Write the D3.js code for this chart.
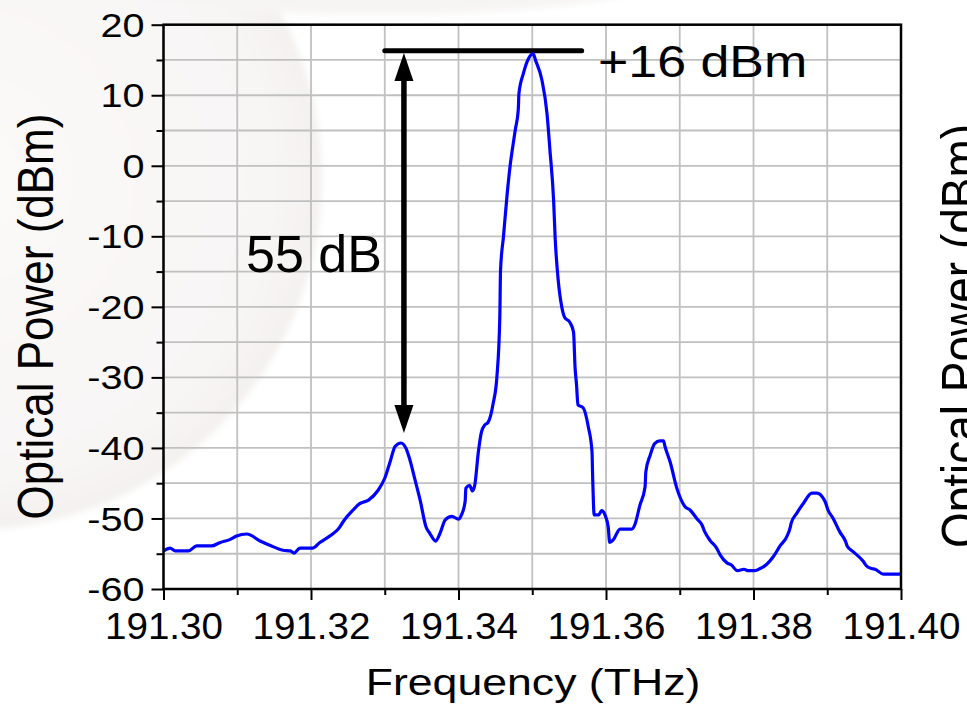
<!DOCTYPE html>
<html><head><meta charset="utf-8">
<script src="https://cdn.jsdelivr.net/npm/d3@7"></script>
<style>
body{margin:0;background:#fff;overflow:hidden}
svg{display:block}
text{font-family:"Liberation Sans",Arial,Helvetica,sans-serif;fill:#000}
</style>
</head><body>
<svg id="chart" width="967" height="707"></svg>
<script>
// ---- data ----
const frequency = [
191.3000,191.3009,191.3016,191.3034,191.3045,191.3065,191.3077,191.3090,191.3099,191.3113,
191.3131,191.3144,191.3162,191.3172,191.3177,191.3185,191.3202,191.3212,191.3228,191.3237,
191.3246,191.3257,191.3266,191.3278,191.3291,191.3300,191.3308,191.3314,191.3322,191.3329,
191.3333,191.3341,191.3348,191.3356,191.3361,191.3369,191.3375,191.3382,191.3391,191.3400,
191.3404,191.3409,191.3410,191.3415,191.3419,191.3422,191.3427,191.3431,191.3436,191.3440,
191.3447,191.3452,191.3456,191.3457,191.3461,191.3466,191.3470,191.3474,191.3477,191.3481,
191.3482,191.3488,191.3495,191.3501,191.3505,191.3513,191.3520,191.3524,191.3529,191.3531,
191.3535,191.3540,191.3544,191.3551,191.3556,191.3558,191.3560,191.3562,191.3569,191.3576,
191.3581,191.3582,191.3584,191.3590,191.3594,191.3599,191.3603,191.3605,191.3610,191.3619,
191.3635,191.3639,191.3646,191.3653,191.3654,191.3660,191.3666,191.3673,191.3678,191.3680,
191.3687,191.3696,191.3704,191.3707,191.3714,191.3723,191.3730,191.3734,191.3741,191.3750,
191.3755,191.3764,191.3770,191.3778,191.3787,191.3793,191.3802,191.3809,191.3818,191.3827,
191.3836,191.3845,191.3850,191.3851,191.3859,191.3868,191.3879,191.3886,191.3897,191.3901,
191.3908,191.3917,191.3925,191.3927,191.3935,191.3949,191.3953,191.3960,191.3965,191.3976,
191.4000];
const power = [
-54.6,-54.2,-54.6,-54.6,-53.9,-53.9,-53.4,-53.0,-52.5,-52.2,
-53.2,-53.8,-54.5,-54.6,-54.9,-54.2,-54.2,-53.4,-52.3,-51.5,
-50.1,-48.8,-47.9,-47.4,-46.0,-44.3,-41.7,-39.8,-39.3,-40.1,
-41.3,-44.5,-47.4,-51.2,-52.1,-53.2,-52.1,-50.2,-49.7,-50.1,
-49.5,-47.6,-45.7,-45.3,-46.1,-45.3,-40.5,-37.8,-36.7,-36.4,
-33.7,-30.0,-21.5,-14.8,-10.0,-4.0,0.0,3.0,5.1,7.9,
10.3,13.1,15.2,15.9,14.8,12.2,7.4,2.2,-5.0,-10.1,
-16.0,-20.0,-21.5,-22.2,-23.6,-28.5,-31.0,-33.9,-34.3,-37.0,
-40.5,-44.5,-49.5,-49.5,-48.9,-49.6,-51.2,-53.4,-53.0,-51.5,
-51.5,-50.9,-48.1,-45.5,-43.4,-41.0,-39.4,-39.0,-39.0,-39.8,
-42.0,-45.7,-47.8,-48.3,-48.8,-50.0,-50.9,-51.9,-53.1,-54.2,
-55.2,-56.3,-56.6,-57.4,-57.2,-57.4,-57.4,-57.1,-56.5,-55.4,
-53.9,-52.6,-51.2,-50.7,-49.2,-47.8,-46.4,-46.4,-47.6,-48.8,
-50.0,-51.9,-53.3,-53.9,-54.7,-56.1,-56.7,-57.1,-57.2,-57.9,
-57.9];

const xMajorTicks = [191.30,191.32,191.34,191.36,191.38,191.40];
const xMinorTicks = [191.31,191.33,191.35,191.37,191.39];
const yMajorTicks = [20,10,0,-10,-20,-30,-40,-50,-60];
const yMinorTicks = [15,5,-5,-15,-25,-35,-45,-55];
const xTitle = "Frequency (THz)";
const yTitle = "Optical Power (dBm)";
const peakText = "+16 dBm";
const rangeText = "55 dB";
const peakMarkerLevel = [16.3];
const peakMarkerSpan = [191.3300, 191.3567];
const arrowFreq = [191.3326];
const arrowSpan = [16.0, -37.9];

// ---- layout ----
const svg = d3.select("#chart");
const L = 163.5, R = 901, T = 24.7, B = 589;
const x = d3.scaleLinear().domain([191.30, 191.40]).range([L, R]);
const y = d3.scaleLinear().domain([-60, 20]).range([B, T]);

// faint watermark behind plot
const defs = svg.append("defs");
const rg = defs.append("radialGradient").attr("id","wm").attr("cx","50%").attr("cy","50%").attr("r","50%");
rg.append("stop").attr("offset","0%").attr("stop-color","#fbfaf9");
rg.append("stop").attr("offset","85%").attr("stop-color","#f8f6f5");
rg.append("stop").attr("offset","100%").attr("stop-color","#f3f1ef");
defs.append("filter").attr("id","blur").append("feGaussianBlur").attr("stdDeviation",3);
svg.append("circle").attr("cx",-30).attr("cy",178).attr("r",352)
  .attr("fill","url(#wm)").attr("filter","url(#blur)");
svg.append("ellipse").attr("cx",380).attr("cy",-30).attr("rx",300).attr("ry",45)
  .attr("fill","#f7f5f4").attr("filter","url(#blur)");

// grid
const gGrid = svg.append("g").attr("stroke","#c0c0c0").attr("stroke-width",1.8);
gGrid.selectAll("line.v").data(xMajorTicks.concat(xMinorTicks)).join("line")
  .attr("x1",d=>x(d)).attr("x2",d=>x(d)).attr("y1",T).attr("y2",B);
gGrid.selectAll("line.h").data(yMajorTicks.concat(yMinorTicks)).join("line")
  .attr("x1",L).attr("x2",R).attr("y1",d=>y(d)).attr("y2",d=>y(d));

// annotations (under the trace)
const ann = svg.append("g");
ann.append("line")
  .attr("x1",x(peakMarkerSpan[0])).attr("x2",x(peakMarkerSpan[1]))
  .attr("y1",y(peakMarkerLevel[0])).attr("y2",y(peakMarkerLevel[0]))
  .attr("stroke","#000").attr("stroke-width",5).attr("stroke-linecap","round");
const ax = x(arrowFreq[0]), yTop = y(arrowSpan[0]), yBot = y(arrowSpan[1]);
const headL = 28, headW = 9.5;
ann.append("line").attr("x1",ax).attr("x2",ax).attr("y1",yTop+headL-2).attr("y2",yBot-headL+2)
  .attr("stroke","#000").attr("stroke-width",5.5);
ann.append("path").attr("d",`M${ax},${yTop} L${ax-headW},${yTop+headL} L${ax+headW},${yTop+headL} Z`).attr("fill","#000");
ann.append("path").attr("d",`M${ax},${yBot} L${ax-headW},${yBot-headL} L${ax+headW},${yBot-headL} Z`).attr("fill","#000");
ann.append("text").attr("x",246).attr("y",272).style("font-size","52px").text(rangeText);
ann.append("text").attr("transform","translate(598,76.7) scale(1.18,1)").style("font-size","44px").text(peakText);

// trace
const pts = frequency.map((f,i)=>[f,power[i]]);
svg.append("path").datum(pts)
  .attr("fill","none").attr("stroke","#0000ff").attr("stroke-width",3.2)
  .attr("stroke-linejoin","round").attr("stroke-linecap","butt")
  .attr("d", d3.line().x(d=>x(d[0])).y(d=>y(d[1])).curve(d3.curveMonotoneX));

// frame
svg.append("rect").attr("x",L).attr("y",T).attr("width",R-L).attr("height",B-T)
  .attr("fill","none").attr("stroke","#000").attr("stroke-width",2.5);

// axes
const xAxis = svg.append("g").attr("transform",`translate(0,${B})`)
  .call(d3.axisBottom(x).tickValues(xMajorTicks).tickSize(11).tickFormat(d => d.toFixed(2)));
svg.append("g").attr("transform",`translate(0,${B})`)
  .call(d3.axisBottom(x).tickValues(xMinorTicks).tickSize(6).tickFormat(""));
const yAxis = svg.append("g").attr("transform",`translate(${L},0)`)
  .call(d3.axisLeft(y).tickValues(yMajorTicks).tickSize(12).tickFormat(d => String(d)));
svg.append("g").attr("transform",`translate(${L},0)`)
  .call(d3.axisLeft(y).tickValues(yMinorTicks).tickSize(7).tickFormat(""));
svg.selectAll(".domain").remove();
svg.selectAll(".tick line").attr("stroke","#000").attr("stroke-width",2);
xAxis.selectAll("text").attr("y",50.3).attr("dy",0).attr("fill","#000")
  .attr("transform","scale(1.03,1)").style("font-size","37.5px")
  .style("font-family",'"Liberation Sans",Arial,sans-serif');
yAxis.selectAll("text").attr("x",-19/1.2).attr("dy","0.35em").attr("fill","#000")
  .attr("transform","scale(1.2,1)").style("font-size","33px")
  .style("font-family",'"Liberation Sans",Arial,sans-serif');

// axis titles
svg.append("text").attr("text-anchor","middle")
  .attr("transform","translate(533,695) scale(1.19,1)").style("font-size","37.5px").text(xTitle);
svg.append("text").attr("text-anchor","middle")
  .attr("transform","translate(53,316.5) scale(1.12,1) rotate(-90)").style("font-size","44px").text(yTitle);
// neighbouring panel's title, cut at the right edge as in the reference
svg.append("text").attr("text-anchor","middle")
  .attr("transform","translate(978,336) scale(1.12,1) rotate(-90)").style("font-size","46px").text(yTitle);
</script>
</body></html>
